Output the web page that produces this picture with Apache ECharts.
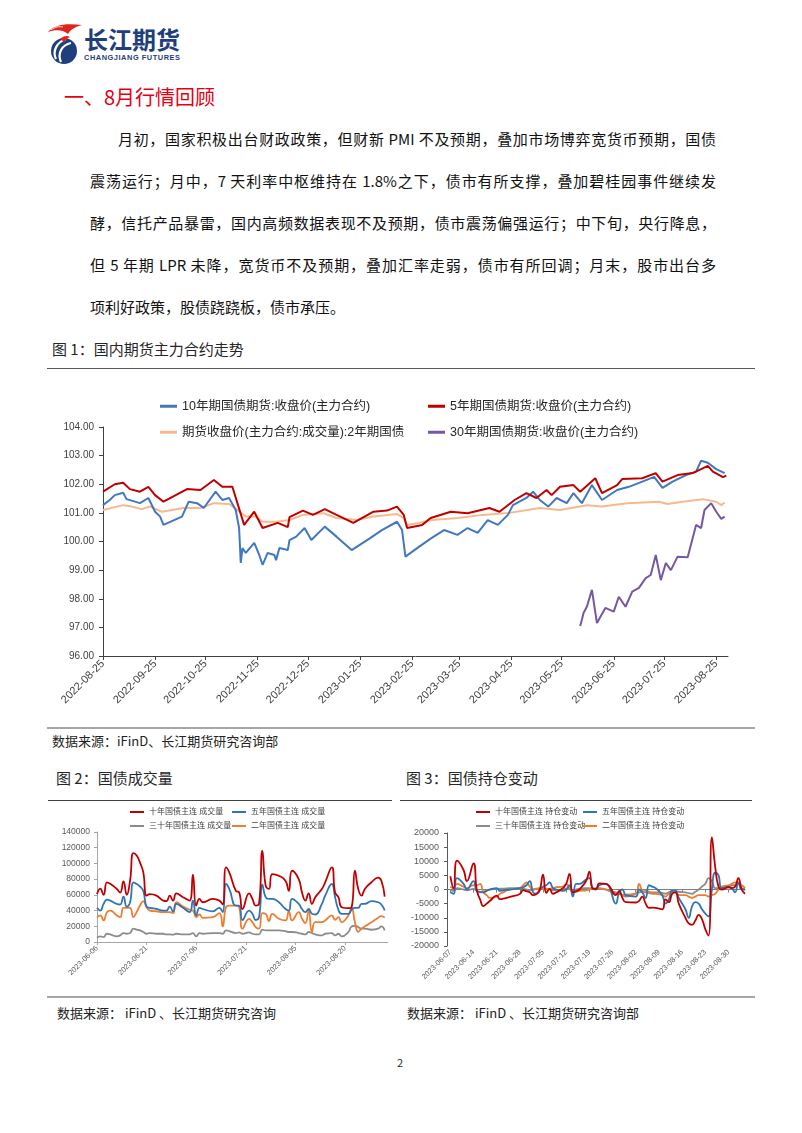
<!DOCTYPE html>
<html lang="zh-CN">
<head>
<meta charset="utf-8">
<title>8月行情回顾</title>
<script src="https://cdn.jsdelivr.net/npm/echarts@6.0.0/dist/echarts.min.js"></script>
<style>
html,body{margin:0;padding:0;background:#fff;}
#page{position:relative;width:802px;height:1133px;overflow:hidden;font-family:"Noto Sans CJK SC","Liberation Sans",sans-serif;color:#111;}
.abs{position:absolute;white-space:nowrap;}
.line{position:absolute;font-size:15px;line-height:20px;height:20px;overflow:hidden;}
.just{text-align:justify;text-align-last:justify;}
.rule{position:absolute;}
.chart{position:absolute;}
</style>
</head>
<body>
<div id="page">
  <svg class="abs" style="left:47px;top:22px" width="36" height="44" viewBox="0 0 36 44">
    <path d="M1 10 C7 3 18 1 35 3 C28 5 24 7 21 12 C17 8 9 7 1 10 Z" fill="#e2231a"/>
    <path d="M4 8 C8 5 12 4 16 5" stroke="#fff" stroke-width="0.8" fill="none"/>
    <circle cx="17" cy="29" r="13" fill="#1e3f7c"/>
    <path d="M9 37 C5 29 10 20 19 17" stroke="#fff" stroke-width="2.2" fill="none"/>
    <path d="M14 40 C10 31 15 23 24 21" stroke="#fff" stroke-width="2.2" fill="none"/>
    <path d="M13 17 C16 14 20 13 23 15 C20 16 18 18 17 21 C16 19 15 18 13 17 Z" fill="#e2231a"/>
  </svg>
  <div class="abs" style="left:84px;top:27px;font-size:24px;line-height:24px;font-weight:bold;color:#1f3f7c;">长江期货</div>
  <div class="abs" style="left:84px;top:54px;font-size:7.4px;line-height:8px;font-weight:bold;color:#1f3f7c;letter-spacing:0.55px;font-family:'Liberation Sans',sans-serif;">CHANGJIANG FUTURES</div>

  <div class="abs" style="left:64px;top:85px;font-size:20px;line-height:24px;color:#e60012;">一、8月行情回顾</div>

  <div class="line just" style="left:118px;top:129px;width:598px;">月初，国家积极出台财政政策，但财新 PMI 不及预期，叠加市场博弈宽货币预期，国债</div>
  <div class="line just" style="left:90px;top:171px;width:626px;">震荡运行；月中，7 天利率中枢维持在 1.8%之下，债市有所支撑，叠加碧桂园事件继续发</div>
  <div class="line just" style="left:90px;top:213px;width:626px;">酵，信托产品暴雷，国内高频数据表现不及预期，债市震荡偏强运行；中下旬，央行降息，</div>
  <div class="line just" style="left:90px;top:255px;width:626px;">但 5 年期 LPR 未降，宽货币不及预期，叠加汇率走弱，债市有所回调；月末，股市出台多</div>
  <div class="line" style="left:90px;top:297px;width:626px;">项利好政策，股债跷跷板，债市承压。</div>

  <div class="abs" style="left:52px;top:339px;font-size:15px;line-height:20px;color:#262626;">图 1：国内期货主力合约走势</div>
  <div class="rule" style="left:47px;top:368px;width:708px;height:1px;background:#595959;"></div>
  <div id="c1" class="chart" style="left:40px;top:370px;width:720px;height:356px;"></div>
  <div class="rule" style="left:47px;top:727px;width:708px;height:2px;background:#a6a6a6;"></div>
  <div class="abs" style="left:52px;top:731px;font-size:13px;line-height:20px;color:#222;">数据来源：iFinD、长江期货研究咨询部</div>

  <div class="abs" style="left:56px;top:768px;font-size:15px;line-height:20px;color:#262626;">图 2：国债成交量</div>
  <div class="abs" style="left:406px;top:768px;font-size:15px;line-height:20px;color:#262626;">图 3：国债持仓变动</div>
  <div class="rule" style="left:48px;top:800px;width:344px;height:1px;background:#404040;"></div>
  <div class="rule" style="left:400px;top:800px;width:352px;height:1px;background:#404040;"></div>
  <div id="c2" class="chart" style="left:40px;top:802px;width:358px;height:192px;"></div>
  <div id="c3" class="chart" style="left:400px;top:802px;width:360px;height:192px;"></div>
  <div class="rule" style="left:47px;top:996px;width:708px;height:2px;background:#a6a6a6;"></div>
  <div class="abs" style="left:57px;top:1003px;font-size:13px;line-height:20px;color:#222;">数据来源： iFinD 、长江期货研究咨询</div>
  <div class="abs" style="left:407px;top:1003px;font-size:13px;line-height:20px;color:#222;">数据来源： iFinD 、长江期货研究咨询部</div>

  <div class="abs" style="left:397px;top:1055px;font-size:11px;line-height:14px;color:#222;">2</div>
</div>

<script>
// ---------------- Chart 1 data: futures closing prices ----------------
const name10 = '10年期国债期货:收盘价(主力合约)';
const name5 = '5年期国债期货:收盘价(主力合约)';
const name2 = '期货收盘价(主力合约:成交量):2年期国债';
const name30 = '30年期国债期货:收盘价(主力合约)';

const close10 = [['2022-08-25',101.27],['2022-08-29',101.45],['2022-09-01',101.62],['2022-09-06',101.70],['2022-09-08',101.48],['2022-09-16',101.34],['2022-09-21',101.52],['2022-09-25',101.04],['2022-09-28',100.87],['2022-09-30',100.58],['2022-10-11',100.87],['2022-10-15',101.39],['2022-10-20',101.34],['2022-10-24',101.17],['2022-10-31',101.74],['2022-11-04',101.45],['2022-11-08',101.52],['2022-11-12',101.10],['2022-11-14',100.47],['2022-11-15',99.25],['2022-11-16',99.77],['2022-11-18',99.60],['2022-11-23',99.95],['2022-11-26',99.53],['2022-11-28',99.18],['2022-12-01',99.60],['2022-12-05',99.53],['2022-12-06',99.35],['2022-12-08',99.77],['2022-12-13',99.70],['2022-12-14',100.05],['2022-12-18',100.17],['2022-12-23',100.47],['2022-12-27',100.05],['2023-01-04',100.52],['2023-01-11',100.17],['2023-01-20',99.70],['2023-01-31',100.12],['2023-02-07',100.40],['2023-02-16',100.69],['2023-02-19',100.40],['2023-02-21',99.47],['2023-02-28',99.77],['2023-03-08',100.10],['2023-03-16',100.40],['2023-03-24',100.23],['2023-03-30',100.47],['2023-04-05',100.30],['2023-04-11',100.75],['2023-04-17',100.58],['2023-04-23',100.93],['2023-04-26',101.27],['2023-05-04',101.52],['2023-05-08',101.74],['2023-05-12',101.45],['2023-05-17',101.22],['2023-05-22',101.52],['2023-05-28',101.34],['2023-06-01',101.69],['2023-06-06',101.34],['2023-06-12',101.97],['2023-06-18',101.45],['2023-06-27',101.80],['2023-07-04',101.91],['2023-07-12',102.09],['2023-07-19',102.26],['2023-07-24',101.87],['2023-07-30',102.09],['2023-08-07',102.32],['2023-08-13',102.44],['2023-08-16',102.82],['2023-08-20',102.75],['2023-08-25',102.53],['2023-08-30',102.39]];

const close5 = [['2022-08-25',101.74],['2022-09-01',102.00],['2022-09-06',102.05],['2022-09-10',101.83],['2022-09-16',101.74],['2022-09-21',101.91],['2022-09-25',101.62],['2022-09-30',101.39],['2022-10-14',101.83],['2022-10-22',101.80],['2022-10-30',102.15],['2022-11-04',101.91],['2022-11-10',101.91],['2022-11-13',101.34],['2022-11-17',100.58],['2022-11-23',101.04],['2022-11-28',100.47],['2022-12-07',100.65],['2022-12-13',100.50],['2022-12-14',100.85],['2022-12-22',101.08],['2022-12-28',100.93],['2023-01-04',101.13],['2023-01-11',100.93],['2023-01-21',100.65],['2023-02-02',101.04],['2023-02-10',101.08],['2023-02-16',101.22],['2023-02-20',100.93],['2023-02-22',100.47],['2023-03-03',100.58],['2023-03-08',100.82],['2023-03-20',101.04],['2023-03-30',100.99],['2023-04-12',101.17],['2023-04-18',101.04],['2023-04-27',101.45],['2023-05-04',101.69],['2023-05-10',101.52],['2023-05-16',101.80],['2023-05-19',101.62],['2023-05-24',101.91],['2023-06-01',101.97],['2023-06-05',101.74],['2023-06-14',102.21],['2023-06-18',101.69],['2023-06-27',101.97],['2023-06-30',102.18],['2023-07-12',102.21],['2023-07-20',102.39],['2023-07-24',102.09],['2023-08-02',102.32],['2023-08-11',102.39],['2023-08-20',102.64],['2023-08-23',102.44],['2023-08-29',102.25],['2023-08-31',102.30]];

const close2 = [['2022-08-25',101.10],['2022-09-06',101.27],['2022-09-11',101.22],['2022-09-17',101.13],['2022-09-22',101.22],['2022-09-29',101.04],['2022-10-12',101.17],['2022-10-22',101.17],['2022-10-30',101.34],['2022-11-08',101.31],['2022-11-13',101.10],['2022-11-18',100.87],['2022-11-24',100.87],['2022-11-28',100.69],['2022-12-06',100.69],['2022-12-14',100.75],['2022-12-22',100.93],['2023-01-03',100.99],['2023-01-11',100.82],['2023-01-23',100.75],['2023-02-02',100.87],['2023-02-16',100.96],['2023-02-20',100.82],['2023-02-22',100.58],['2023-03-01',100.65],['2023-03-09',100.75],['2023-03-24',100.82],['2023-04-08',100.93],['2023-04-24',101.00],['2023-05-12',101.17],['2023-05-24',101.10],['2023-06-09',101.27],['2023-06-18',101.22],['2023-07-03',101.34],['2023-07-22',101.39],['2023-07-27',101.31],['2023-08-05',101.39],['2023-08-17',101.48],['2023-08-25',101.39],['2023-08-28',101.27],['2023-08-30',101.36]];

const close30 = [['2023-06-05',97.05],['2023-06-06',97.26],['2023-06-07',97.50],['2023-06-09',97.72],['2023-06-12',98.31],['2023-06-15',97.15],['2023-06-20',97.68],['2023-06-25',97.55],['2023-06-28',98.07],['2023-07-02',97.72],['2023-07-06',98.25],['2023-07-10',98.38],['2023-07-14',98.72],['2023-07-17',98.83],['2023-07-20',99.53],['2023-07-23',98.65],['2023-07-26',99.25],['2023-07-29',99.00],['2023-08-02',99.47],['2023-08-08',99.45],['2023-08-13',100.58],['2023-08-16',100.47],['2023-08-18',101.10],['2023-08-22',101.34],['2023-08-25',101.04],['2023-08-28',100.79],['2023-08-30',100.87]];

const ticks1 = ['2022-08-25','2022-09-25','2022-10-25','2022-11-25','2022-12-25','2023-01-25','2023-02-25','2023-03-25','2023-04-25','2023-05-25','2023-06-25','2023-07-25','2023-08-25'];

// ---------------- Chart 2 data: trading volume ----------------
const volNames = ['十年国债主连 成交量','五年国债主连 成交量','三十年国债主连 成交量','二年国债主连 成交量'];
const dates2 = ['2023-06-06','2023-06-07','2023-06-08','2023-06-09','2023-06-10','2023-06-12','2023-06-13','2023-06-14','2023-06-15','2023-06-16','2023-06-17','2023-06-18','2023-06-19','2023-06-20','2023-06-21','2023-06-22','2023-06-24','2023-06-26','2023-06-27','2023-06-28','2023-06-29','2023-06-30','2023-07-02','2023-07-04','2023-07-05','2023-07-06','2023-07-07','2023-07-08','2023-07-11','2023-07-13','2023-07-14','2023-07-15','2023-07-16','2023-07-18','2023-07-19','2023-07-20','2023-07-22','2023-07-23','2023-07-24','2023-07-25','2023-07-26','2023-07-27','2023-07-28','2023-07-29','2023-07-31','2023-08-02','2023-08-03','2023-08-04','2023-08-06','2023-08-07','2023-08-08','2023-08-09','2023-08-10','2023-08-11','2023-08-13','2023-08-14','2023-08-16','2023-08-17','2023-08-18','2023-08-19','2023-08-21','2023-08-22','2023-08-23','2023-08-24','2023-08-25','2023-08-26','2023-08-28','2023-08-30','2023-08-31','2023-09-01'];
const vol10 = [61000,68000,60000,76000,74000,67500,63000,77000,60000,78000,113000,110000,101000,88600,59000,61000,59000,52700,52000,59000,52700,62000,57000,52700,85600,46400,54800,50600,54800,52700,48000,95000,88600,65000,63000,42000,62000,54800,46400,48500,116000,71700,67500,86500,84400,78000,65000,90700,80000,63000,52700,62000,48500,57000,67500,76000,95000,63000,57000,44300,43000,44300,90700,67500,59000,67500,76000,82000,78000,57800];
const vol5 = [43500,40000,48500,54000,52700,48500,47700,57800,45000,50600,76000,73800,70500,65000,45000,43500,42000,40000,40000,45000,39000,48500,43500,38000,52700,33800,43500,42000,39000,43500,38000,73800,67500,46400,46400,28000,40000,35900,28000,31600,73000,57000,54800,54800,50600,42000,40000,54800,48500,42000,38000,42000,35900,35000,48500,59000,73800,57000,41000,35900,35900,41000,43500,43500,48500,48500,52000,50600,47700,40000];
const vol30 = [5500,7200,6300,10500,9700,7200,8400,11400,10500,11400,16900,15600,14800,12700,10500,11400,10500,10500,9700,9700,9300,10500,9700,9700,11400,7200,11400,10500,11400,11400,10500,14800,13900,11400,12200,10500,12200,10500,9700,9700,15600,14800,14800,14800,14800,13900,12700,12700,11400,10500,9700,12700,11400,9700,8400,10500,11400,8400,10500,7200,12700,19800,20700,19000,16900,16900,15600,16900,19800,14800];
const vol2 = [31600,33800,27400,38000,40000,33800,31600,43500,43500,43500,31600,38000,46400,52000,44300,40000,39000,38000,38000,38000,36700,50600,45000,41000,40000,31600,35000,30800,31600,36700,19800,44300,46400,46400,44300,16900,29500,25300,19000,16900,36700,35900,26600,35900,29500,27400,39000,27400,38000,29500,24000,40000,12700,25300,25300,27400,33800,28300,31600,25300,33800,43500,25000,13000,17000,20000,25000,31000,33000,31000];
const ticks2 = ['2023-06-06','2023-06-21','2023-07-06','2023-07-21','2023-08-05','2023-08-20'];

// ---------------- Chart 3 data: open interest change ----------------
const oiNames = ['十年国债主连 持仓变动','五年国债主连 持仓变动','三十年国债主连 持仓变动','二年国债主连 持仓变动'];
const dates3 = ['2023-06-07','2023-06-08','2023-06-09','2023-06-11','2023-06-12','2023-06-14','2023-06-15','2023-06-16','2023-06-17','2023-06-18','2023-06-19','2023-06-21','2023-06-22','2023-06-23','2023-06-25','2023-06-28','2023-06-29','2023-06-30','2023-07-01','2023-07-02','2023-07-03','2023-07-04','2023-07-05','2023-07-06','2023-07-07','2023-07-08','2023-07-09','2023-07-11','2023-07-12','2023-07-13','2023-07-14','2023-07-15','2023-07-16','2023-07-18','2023-07-19','2023-07-20','2023-07-21','2023-07-22','2023-07-24','2023-07-25','2023-07-27','2023-07-28','2023-07-29','2023-07-30','2023-08-02','2023-08-03','2023-08-04','2023-08-05','2023-08-06','2023-08-07','2023-08-08','2023-08-10','2023-08-11','2023-08-12','2023-08-13','2023-08-14','2023-08-15','2023-08-17','2023-08-18','2023-08-19','2023-08-20','2023-08-21','2023-08-22','2023-08-23','2023-08-24','2023-08-25','2023-08-26','2023-08-27','2023-08-28','2023-08-30','2023-08-31','2023-09-01','2023-09-02','2023-09-03','2023-09-04'];
const oi10 = [4700,400,10200,6900,3000,9200,-200,-3500,-5900,-5000,-4000,-2200,-3400,-3200,-2600,-1600,-200,-600,-1000,-2000,-1600,-300,5300,-1200,200,-1500,-1000,500,2000,5500,-1000,-600,0,3000,6300,300,200,2200,2000,1200,-2000,-500,-3000,-4500,-4600,-4000,-2500,-5000,-6500,-6400,-6500,-7000,-3500,-4500,-1500,-1000,-5000,-10000,-12000,-12500,-11000,-9000,-10500,-14000,-16300,18500,8000,1000,0,800,500,1000,4000,0,-1500];
const oi5 = [-1000,-1500,4000,2000,0,3000,-500,-800,-1000,-500,0,500,-500,-300,0,500,800,1500,3000,-1000,-1500,0,1000,1500,2500,500,0,-500,0,1500,-2500,2000,2000,3500,4000,500,0,1500,2000,1000,-5000,-1000,0,-2000,-2500,0,-1000,-3000,1500,1000,500,-2000,-5000,-3500,-500,-500,-3000,-7000,-10000,-6000,-4500,-5000,-7000,-8500,-9500,0,6000,5000,500,1000,500,-1000,2500,0,0];
const oi30 = [0,-500,500,0,-300,200,-500,-1000,-800,-300,0,200,300,300,500,500,300,0,-200,0,200,300,500,300,0,-300,-200,0,300,200,-300,0,300,500,500,300,500,300,0,-500,-1000,-1500,-2000,-2500,-1500,-1000,-800,-500,-800,-1000,-1000,-1200,-1500,-1000,-500,-500,-800,-1000,-1300,-1500,-800,0,1000,2000,4000,3000,500,500,500,1000,1500,1500,2000,500,0];
const oi2 = [1000,500,2000,1000,500,1500,1500,2000,-1000,-2000,-3000,-2500,-1500,-1000,0,500,1500,2500,1000,0,300,500,300,0,200,500,800,1000,2000,500,-1000,-800,-500,-300,0,200,300,500,0,-500,-1500,-1500,-2000,-1800,-1500,2000,-500,-1000,-1300,-1500,-1500,-2000,-2500,-1500,-1000,-1000,-2000,-2000,-2500,-3000,-2500,-2000,-2000,-2000,-2500,-2000,-1500,0,1000,1500,2000,2500,2000,1500,500];
const ticks3 = ['2023-06-07','2023-06-14','2023-06-21','2023-06-28','2023-07-05','2023-07-12','2023-07-19','2023-07-26','2023-08-02','2023-08-09','2023-08-16','2023-08-23','2023-08-30'];

// ---------------- helpers ----------------
function ts(s){const p=s.split('-').map(Number);return new Date(p[0],p[1]-1,p[2]).getTime();}
function pad(n){return n<10?'0'+n:''+n;}
function fmt(v){const t=new Date(v);return t.getFullYear()+'-'+pad(t.getMonth()+1)+'-'+pad(t.getDate());}
const LAT = '"Liberation Sans","Noto Sans CJK SC",sans-serif';
function leg(name,left,top,fs,iw,ih,color){
  return {data:[name],left:left,top:top,icon:'rect',itemWidth:iw,itemHeight:ih,padding:0,itemGap:0,
    selectedMode:false,textStyle:{fontSize:fs,color:color,fontFamily:LAT}};
}
function lineSeries(name,data,color,width,smooth,z,xi){
  return {name:name,type:'line',data:data,showSymbol:false,symbol:'none',smooth:smooth,z:z||2,xAxisIndex:xi||0,
    lineStyle:{color:color,width:width},itemStyle:{color:color},emphasis:{disabled:true}};
}
const pairs = arr => arr.map(p=>[ts(p[0]),p[1]]);
const zip = (dates,vals) => dates.map((d,i)=>[ts(d),vals[i]]);
// date axis drawn as a numeric (timestamp) axis so that ticks can sit on chosen dates
function dateAxis(min,max,ticks,lab,line,tick,extra){
  const tv = ticks.map(ts);
  return Object.assign({type:'value',min:ts(min),max:ts(max),scale:true,
    axisLine:line,axisTick:Object.assign({customValues:tv},tick),
    axisLabel:Object.assign({customValues:tv,formatter:fmt,rotate:45,fontFamily:LAT},lab),
    splitLine:{show:false}},extra||{});
}

// ---------------- Chart 1 ----------------
const C10='#4178be', C5='#c00000', C2='#f7b98c', C30='#7557a3';
const chart1 = echarts.init(document.getElementById('c1'));
chart1.setOption({
  animation:false,
  legend:[
    leg(name10,120,30,12.5,17,3,'#262626'),
    leg(name5,388,30,12.5,17,3,'#262626'),
    leg(name2,120,56,12.5,17,3,'#262626'),
    leg(name30,388,56,12.5,17,3,'#262626')
  ],
  grid:{left:63,top:57,width:625,height:229},
  xAxis:dateAxis('2022-08-25','2023-09-01',ticks1,
    {fontSize:11,color:'#404040',margin:6},
    {show:true,onZero:false,lineStyle:{color:'#404040',width:1}},
    {show:true,length:4,lineStyle:{color:'#404040'}}),
  yAxis:{type:'value',min:96,max:104,interval:1,
    axisLine:{show:true,lineStyle:{color:'#404040',width:1}},
    axisTick:{show:true,length:4,lineStyle:{color:'#404040'}},
    axisLabel:{formatter:v=>v.toFixed(2),fontSize:10,color:'#404040',fontFamily:LAT,margin:9},
    splitLine:{show:false}},
  series:[
    lineSeries(name2,pairs(close2),C2,2,false,1),
    lineSeries(name10,pairs(close10),C10,2,false,2),
    lineSeries(name5,pairs(close5),C5,2,false,3),
    lineSeries(name30,pairs(close30),C30,2,false,4)
  ]
});

// ---------------- Chart 2 ----------------
const V10='#c00000', V5='#2e75b6', V30='#8c8c8c', V2='#ed7d31';
const chart2 = echarts.init(document.getElementById('c2'));
chart2.setOption({
  animation:false,
  legend:[
    leg(volNames[0],90,6,8,14,2,'#404040'),
    leg(volNames[1],192,6,8,14,2,'#404040'),
    leg(volNames[2],90,20,8,14,2,'#404040'),
    leg(volNames[3],192,20,8,14,2,'#404040')
  ],
  grid:{left:57,top:30,width:291,height:110},
  xAxis:dateAxis('2023-06-06','2023-09-02',ticks2,
    {fontSize:7.5,color:'#595959',margin:5},
    {show:true,onZero:false,lineStyle:{color:'#a6a6a6'}},
    {show:true,length:3,lineStyle:{color:'#a6a6a6'}}),
  yAxis:{type:'value',min:0,max:140000,interval:20000,
    axisLine:{show:true,lineStyle:{color:'#a6a6a6'}},
    axisTick:{show:true,length:3,lineStyle:{color:'#a6a6a6'}},
    axisLabel:{formatter:v=>String(v),fontSize:8.5,color:'#595959',fontFamily:LAT,margin:7},
    splitLine:{show:false}},
  series:[
    lineSeries(volNames[2],zip(dates2,vol30),V30,1.8,true,1),
    lineSeries(volNames[3],zip(dates2,vol2),V2,1.8,true,2),
    lineSeries(volNames[1],zip(dates2,vol5),V5,1.8,true,3),
    lineSeries(volNames[0],zip(dates2,vol10),V10,1.8,true,4)
  ]
});

// ---------------- Chart 3 ----------------
const chart3 = echarts.init(document.getElementById('c3'));
chart3.setOption({
  animation:false,
  legend:[
    leg(oiNames[0],76,6,8,14,2,'#404040'),
    leg(oiNames[1],183,6,8,14,2,'#404040'),
    leg(oiNames[2],76,20,8,14,2,'#404040'),
    leg(oiNames[3],183,20,8,14,2,'#404040')
  ],
  grid:{left:47,top:31,width:298,height:113},
  xAxis:[
    dateAxis('2023-06-06','2023-09-04',ticks3,
      {fontSize:7.5,color:'#595959',margin:5},
      {show:false,onZero:false},
      {show:false}),
    dateAxis('2023-06-06','2023-09-04',ticks3,
      {show:false},
      {show:true,onZero:true,lineStyle:{color:'#7f7f7f'}},
      {show:true,length:3,lineStyle:{color:'#7f7f7f'}},
      {position:'bottom'})
  ],
  yAxis:{type:'value',min:-20000,max:20000,interval:5000,
    axisLine:{show:true,lineStyle:{color:'#595959'}},
    axisTick:{show:true,length:3,lineStyle:{color:'#595959'}},
    axisLabel:{formatter:v=>String(v),fontSize:9,color:'#595959',fontFamily:LAT,margin:8},
    splitLine:{show:false}},
  series:[
    lineSeries(oiNames[2],zip(dates3,oi30),V30,1.8,true,1),
    lineSeries(oiNames[3],zip(dates3,oi2),V2,1.8,true,2),
    lineSeries(oiNames[1],zip(dates3,oi5),V5,1.8,true,3),
    lineSeries(oiNames[0],zip(dates3,oi10),V10,1.8,true,4)
  ]
});
</script>
</body>
</html>
